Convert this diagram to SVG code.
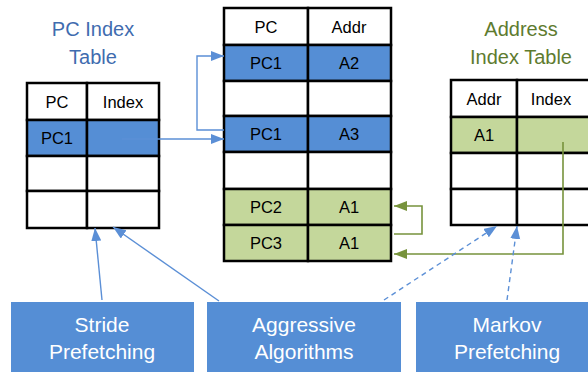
<svg xmlns="http://www.w3.org/2000/svg" width="588" height="372" viewBox="0 0 588 372">
<style>
.cell{stroke:#000;stroke-width:2.5;}
.w{fill:#fff}.b{fill:#558ED5}.g{fill:#C4D79B}
.t{font-family:"Liberation Sans",Arial,sans-serif;font-size:16.5px;fill:#000;text-anchor:middle}
.ttl{font-family:"Liberation Sans",Arial,sans-serif;font-size:20px;text-anchor:middle}
.box{fill:#558ED5}
.bt{font-family:"Liberation Sans",Arial,sans-serif;font-size:21px;fill:#fff;text-anchor:middle}
.bl{fill:none;stroke:#5B8FD6;stroke-width:1.4}
.gl{fill:none;stroke:#77933C;stroke-width:1.6}
.dash{stroke-dasharray:5 4}
</style>
<defs>
<marker id="ab" markerUnits="userSpaceOnUse" markerWidth="14" markerHeight="12" refX="13" refY="5" orient="auto">
<path d="M0,0 L13,5 L0,10 z" fill="#5B8FD6"/>
</marker>
<marker id="ag" markerUnits="userSpaceOnUse" markerWidth="14" markerHeight="12" refX="13" refY="5" orient="auto">
<path d="M0,0 L13,5 L0,10 z" fill="#77933C"/>
</marker>
</defs>

<g id="pc-index-table">
<text class="ttl" x="93" y="36" fill="#3F6CAF">PC Index</text>
<text class="ttl" x="93" y="64" fill="#3F6CAF">Table</text>
<rect class="cell w" x="27" y="83" width="60" height="37"/>
<rect class="cell w" x="87" y="83" width="72" height="37"/>
<rect class="cell b" x="27" y="120" width="60" height="36"/>
<rect class="cell b" x="87" y="120" width="72" height="36"/>
<rect class="cell w" x="27" y="156" width="60" height="35"/>
<rect class="cell w" x="87" y="156" width="72" height="35"/>
<rect class="cell w" x="27" y="191" width="60" height="37"/>
<rect class="cell w" x="87" y="191" width="72" height="37"/>
<text class="t" x="57" y="108">PC</text>
<text class="t" x="123" y="108">Index</text>
<text class="t" x="57" y="144">PC1</text>
</g>

<g id="history-table">
<rect class="cell w" x="224" y="8" width="84" height="37"/>
<rect class="cell w" x="308" y="8" width="83" height="37"/>
<rect class="cell b" x="224" y="45" width="84" height="36"/>
<rect class="cell b" x="308" y="45" width="83" height="36"/>
<rect class="cell w" x="224" y="81" width="84" height="35"/>
<rect class="cell w" x="308" y="81" width="83" height="35"/>
<rect class="cell b" x="224" y="116" width="84" height="36"/>
<rect class="cell b" x="308" y="116" width="83" height="36"/>
<rect class="cell w" x="224" y="152" width="84" height="37"/>
<rect class="cell w" x="308" y="152" width="83" height="37"/>
<rect class="cell g" x="224" y="189" width="84" height="36"/>
<rect class="cell g" x="308" y="189" width="83" height="36"/>
<rect class="cell g" x="224" y="225" width="84" height="36"/>
<rect class="cell g" x="308" y="225" width="83" height="36"/>
<text class="t" x="266" y="33">PC</text>
<text class="t" x="349" y="33">Addr</text>
<text class="t" x="266" y="69">PC1</text>
<text class="t" x="349" y="69">A2</text>
<text class="t" x="266" y="140">PC1</text>
<text class="t" x="349" y="140">A3</text>
<text class="t" x="266" y="213">PC2</text>
<text class="t" x="349" y="213">A1</text>
<text class="t" x="266" y="249">PC3</text>
<text class="t" x="349" y="249">A1</text>
</g>

<g id="address-index-table">
<text class="ttl" x="521" y="36" fill="#5E7B2F">Address</text>
<text class="ttl" x="521" y="64" fill="#5E7B2F">Index Table</text>
<rect class="cell w" x="451" y="80" width="66" height="37"/>
<rect class="cell w" x="517" y="80" width="80" height="37"/>
<rect class="cell g" x="451" y="117" width="66" height="36"/>
<rect class="cell g" x="517" y="117" width="80" height="36"/>
<rect class="cell w" x="451" y="153" width="66" height="36"/>
<rect class="cell w" x="517" y="153" width="80" height="36"/>
<rect class="cell w" x="451" y="189" width="66" height="36"/>
<rect class="cell w" x="517" y="189" width="80" height="36"/>
<text class="t" x="484" y="105">Addr</text>
<text class="t" x="551" y="105">Index</text>
<text class="t" x="484" y="141">A1</text>
</g>

<g id="stride-prefetching">
<rect class="box" x="11" y="302" width="183" height="72"/>
<text class="bt" x="102" y="332">Stride</text>
<text class="bt" x="102" y="359">Prefetching</text>
</g>
<g id="aggressive-algorithms">
<rect class="box" x="207" y="302" width="194" height="72"/>
<text class="bt" x="304" y="332">Aggressive</text>
<text class="bt" x="304" y="359">Algorithms</text>
</g>
<g id="markov-prefetching">
<rect class="box" x="416" y="302" width="182" height="72"/>
<text class="bt" x="507" y="332">Markov</text>
<text class="bt" x="507" y="359">Prefetching</text>
</g>

<g id="connectors">
<path class="bl" d="M122,139 H224" marker-end="url(#ab)"/>
<path class="bl" d="M224,130 H197 V56 H224" marker-end="url(#ab)"/>
<path class="gl" d="M394,234 H422 V206 H394" marker-end="url(#ag)"/>
<path class="gl" d="M563,142 V254 H394" marker-end="url(#ag)"/>
<path class="bl" d="M102,300 L95,228" marker-end="url(#ab)"/>
<path class="bl" d="M219,301 L113,227" marker-end="url(#ab)"/>
<path class="bl dash" d="M384,300 L497,226" marker-end="url(#ab)"/>
<path class="bl dash" d="M507,300 L517,226" marker-end="url(#ab)"/>
</g>
</svg>
